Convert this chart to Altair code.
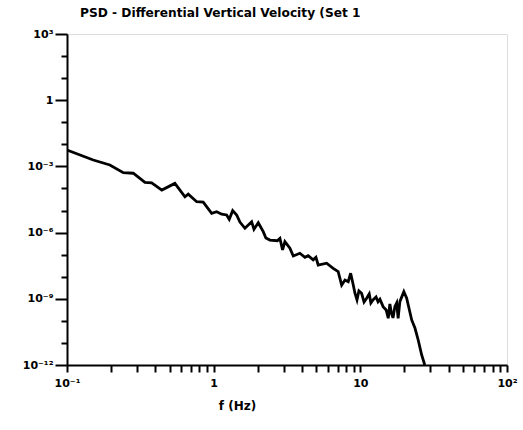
import altair as alt
import pandas as pd

# --- data (frequency in Hz, PSD) ---
freq = [0.1, 0.151, 0.196, 0.242, 0.283, 0.340, 0.378, 0.443, 0.544, 0.637,
        0.671, 0.766, 0.849, 0.969, 1.048, 1.134, 1.226, 1.277, 1.348, 1.435,
        1.51, 1.634, 1.815, 1.883, 2.014, 2.178, 2.27, 2.42, 2.714, 2.83,
        2.95, 3.06, 3.31, 3.49, 3.87, 4.19, 4.41, 4.77, 4.98, 5.16,
        5.89, 6.53, 7.06, 7.46, 7.86, 8.27, 8.59, 8.95, 9.19, 9.49,
        9.78, 10.2, 10.6, 11.04, 11.5, 11.8, 12.2, 12.8, 13.2, 13.6,
        14.3, 15.0, 15.5, 15.9, 16.3, 16.7, 17.2, 17.7, 18.1, 18.6,
        19.8, 20.7, 22.4, 23.6, 24.8, 26.2, 27.5]
psd = [5.5e-3, 1.95e-3, 1.16e-3, 5.2e-4, 4.9e-4, 1.9e-4, 1.8e-4, 8.5e-5, 1.7e-4, 4.2e-5,
       5.5e-5, 2.5e-5, 2.4e-5, 7.5e-6, 8.9e-6, 6.8e-6, 6.3e-6, 4.0e-6, 9.9e-6, 6.3e-6,
       3.0e-6, 1.57e-6, 3.1e-6, 1.42e-6, 2.8e-6, 1.1e-6, 5.7e-7, 4.6e-7, 4.3e-7, 5.5e-7,
       1.63e-7, 3.9e-7, 1.95e-7, 8.7e-8, 1.16e-7, 7.6e-8, 9.0e-8, 5.8e-8, 7.6e-8, 3.4e-8,
       4.1e-8, 2.4e-8, 1.7e-8, 4.2e-9, 7.1e-9, 6.0e-9, 1.44e-8, 4.2e-9, 1.78e-9, 8.9e-10,
       2.3e-9, 1.78e-9, 7.2e-10, 1.06e-9, 1.66e-9, 6.5e-10, 8.9e-10, 1.21e-9, 7.4e-10, 9.5e-10,
       4.4e-10, 3.1e-10, 1.31e-10, 5.8e-10, 2.2e-10, 1.36e-10, 4.4e-10, 6.5e-10, 1.31e-10, 7.4e-10,
       2.1e-9, 1.06e-9, 1.1e-10, 4.6e-11, 1.36e-11, 2.85e-12, 1.0e-12]

x_tick_values = [0.1, 0.2, 0.3, 0.4, 0.5, 0.6, 0.7, 0.8, 0.9,
                 1, 2, 3, 4, 5, 6, 7, 8, 9,
                 10, 20, 30, 40, 50, 60, 70, 80, 90, 100]
x_major_exp = [-1, 0, 1, 2]
x_major_labels = ["10⁻¹", "1", "10", "10²"]

y_tick_values = [1e3, 1e2, 1e1, 1, 1e-1, 1e-2, 1e-3, 1e-4, 1e-5, 1e-6,
                 1e-7, 1e-8, 1e-9, 1e-10, 1e-11, 1e-12]
y_major_exp = [3, 0, -3, -6, -9, -12]
y_major_labels = ["10³", "1", "10⁻³", "10⁻⁶", "10⁻⁹", "10⁻¹²"]

title_text = "PSD - Differential Vertical Velocity (Set 1"
x_title = "f (Hz)"

df = pd.DataFrame({"f": freq, "psd": psd})

LOG = "(log(datum.value)/LN10)"
IS_DECADE = f"abs({LOG} - round({LOG})) < 1e-6"


def label_expr(exps, labels):
    e = f"round({LOG})"
    arr_e = "[" + ",".join(str(v) for v in exps) + "]"
    arr_l = "[" + ",".join("'" + s + "'" for s in labels) + "]"
    return (f"({IS_DECADE}) && indexof({arr_e}, {e}) >= 0 ? "
            f"{arr_l}[indexof({arr_e}, {e})] : ''")


FONT = "DejaVu Sans"

y_major_test = f"abs(round({LOG})) % 3 == 0"

chart = alt.Chart(df).mark_line(color="black", strokeWidth=2.8, clip=True).encode(
    x=alt.X(
        "f:Q",
        scale=alt.Scale(type="log", domain=[0.1, 100], nice=False),
        axis=alt.Axis(
            values=x_tick_values,
            labelExpr=label_expr(x_major_exp, x_major_labels),
            tickSize=7,
            tickWidth=2,
            domainWidth=2,
            domainColor="black",
            tickColor="black",
            grid=False,
            labelFont=FONT,
            labelFontSize=11,
            labelFontWeight="bold",
            labelColor="black",
            labelPadding=5,
            labelFlush=False,
            labelOverlap=False,
            title=x_title,
            titleFont=FONT,
            titleFontSize=12,
            titleFontWeight="bold",
            titleColor="black",
            titleX=170,
            titleY=35,
            titleAlign="center",
        ),
    ),
    y=alt.Y(
        "psd:Q",
        scale=alt.Scale(type="log", domain=[1e-12, 1e3], nice=False),
        axis=alt.Axis(
            values=y_tick_values,
            labelExpr=label_expr(y_major_exp, y_major_labels),
            tickSize={"condition": {"test": y_major_test, "value": 12}, "value": 6},
            tickWidth=2,
            domainWidth=2,
            domainColor="black",
            tickColor="black",
            grid=False,
            labelFont=FONT,
            labelFontSize=11,
            labelFontWeight="bold",
            labelColor="black",
            labelPadding=2,
            labelFlush=False,
            labelOverlap=False,
            title="",
        ),
    ),
).properties(
    width=440,
    height=331,
    title=alt.TitleParams(
        text=title_text,
        anchor="start",
        frame="group",
        dx=13,
        offset=9,
        font=FONT,
        fontSize=12.2,
        fontWeight="bold",
        color="black",
    ),
    autosize=alt.AutoSizeParams(type="none"),
    padding={"left": 67, "top": 34, "right": 16, "bottom": 65},
).configure_view(strokeWidth=0).configure(background="white")

chart.save("out.html", embed_options={"renderer": "svg", "actions": False})
